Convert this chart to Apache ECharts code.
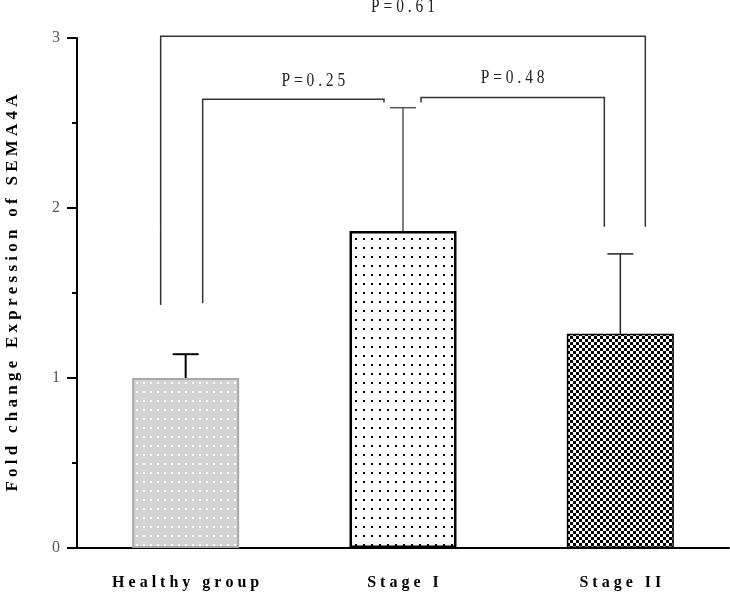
<!DOCTYPE html>
<html>
<head>
<meta charset="utf-8">
<script src="https://cdn.jsdelivr.net/npm/echarts@6/dist/echarts.min.js"></script>
<style>
  html, body { margin: 0; padding: 0; background: #fff; }
  #chart { width: 730px; height: 592px; }
</style>
</head>
<body>
<div id="chart"></div>
<script>
// data
var categories = ['Healthy group', 'Stage I', 'Stage II'];
var means = [1.0, 1.865, 1.26];
var errors = [0.14, 0.725, 0.47];
var yTicks = [0, 1, 2, 3];

// significance brackets: [from, to, top, left foot, right foot]
var brackets = [[0, 2, 3.01, 1.43, 1.89], [0, 1, 2.64, 1.44, 2.62], [1, 2, 2.65, 2.62, 1.89]];
var pLabels = ['P = 0 . 6 1', 'P = 0 . 2 5', 'P = 0 . 4 8'];

// spread letters like the original print
function spaced(s) { return s.split('').join(' '); }

// small repeating fills for the bars
function pattern(w, h, draw) {
  var c = document.createElement('canvas');
  c.width = w; c.height = h;
  draw(c.getContext('2d'));
  return { image: c, repeat: 'repeat' };
}
var healthyFill = pattern(7, 9, function (g) {
  g.fillStyle = '#d3d3d3'; g.fillRect(0, 0, 7, 9);
  g.fillStyle = '#ffffff'; g.fillRect(3, 4, 2, 2);
});
var stage1Fill = pattern(8, 9, function (g) {
  g.fillStyle = '#ffffff'; g.fillRect(0, 0, 8, 9);
  g.fillStyle = '#000000'; g.fillRect(3, 4, 2, 2);
});
var stage2Fill = pattern(6, 6, function (g) {
  g.fillStyle = '#ffffff'; g.fillRect(0, 0, 6, 6);
  g.fillStyle = '#000000'; g.fillRect(0, 0, 3, 3); g.fillRect(3, 3, 3, 3);
});

var barStyles = [
  { color: healthyFill, borderColor: '#a9a9a9', borderWidth: 2 },
  { color: stage1Fill, borderColor: '#000', borderWidth: 2.5 },
  { color: stage2Fill, borderColor: '#000', borderWidth: 1.5 }
];
var errColors = ['#000', '#555', '#222'];
var errWidths = [2, 1.5, 1.5];
// pixel offsets of bracket legs from the bar centres, and label nudges
var legOffsets = [[-25, 25], [17, -19], [18, -16]];
var labelNudge = [[0, -29], [20, -18], [0, -19]];

var serif = '"Liberation Serif", "DejaVu Serif", serif';

var chart = echarts.init(document.getElementById('chart'));

var option = {
  animation: false,
  grid: { left: 77, right: 1, top: 38, bottom: 44, containLabel: false, outerBoundsMode: 'none' },
  xAxis: {
    type: 'category',
    data: categories,
    axisLine: { lineStyle: { color: '#000', width: 2 } },
    axisTick: { alignWithLabel: true, length: 11, lineStyle: { color: '#000', width: 2 } },
    axisLabel: {
      margin: 27,
      fontFamily: serif,
      fontWeight: 'bold',
      fontSize: 16,
      color: '#000',
      formatter: function (v) { return spaced(v); }
    }
  },
  yAxis: {
    type: 'value',
    min: yTicks[0],
    max: yTicks[yTicks.length - 1],
    interval: 1,
    name: spaced('Fold change Expression of SEMA4A'),
    nameLocation: 'middle',
    nameGap: 56,
    nameTextStyle: { fontFamily: serif, fontWeight: 'bold', fontSize: 17, color: '#000' },
    axisLine: { show: true, lineStyle: { color: '#000', width: 2 } },
    axisTick: { show: true, length: 10, lineStyle: { color: '#000', width: 2 } },
    minorTick: { show: true, splitNumber: 2, length: 5, lineStyle: { color: '#000', width: 2 } },
    splitLine: { show: false },
    axisLabel: { margin: 17, fontFamily: serif, fontSize: 16, color: '#555' }
  },
  series: [
    {
      type: 'bar',
      barWidth: 107,
      data: means.map(function (m, i) { return { value: m, itemStyle: barStyles[i] }; }),
      z: 2
    },
    {
      // upper error bars
      type: 'custom',
      data: means.map(function (m, i) { return [i, m, errors[i]]; }),
      encode: { x: 0, y: 1 },
      z: 3,
      renderItem: function (params, api) {
        var i = api.value(0);
        var base = api.coord([i, api.value(1)]);
        var top = api.coord([i, api.value(1) + api.value(2)]);
        var st = { stroke: errColors[i], lineWidth: errWidths[i] };
        return {
          type: 'group',
          children: [
            { type: 'line', shape: { x1: base[0], y1: base[1], x2: top[0], y2: top[1] }, style: st },
            { type: 'line', shape: { x1: top[0] - 13, y1: top[1], x2: top[0] + 13, y2: top[1] }, style: st }
          ]
        };
      }
    },
    {
      // significance brackets
      type: 'custom',
      clip: false,
      data: brackets,
      encode: { x: 0, y: 2 },
      z: 4,
      renderItem: function (params, api) {
        var k = params.dataIndex;
        var a = api.value(0), b = api.value(1);
        var top = api.value(2);
        var pl = api.coord([a, top]), pr = api.coord([b, top]);
        var fl = api.coord([a, api.value(3)]), fr = api.coord([b, api.value(4)]);
        var xl = pl[0] + legOffsets[k][0], xr = pr[0] + legOffsets[k][1];
        return {
          type: 'group',
          children: [
            {
              type: 'polyline',
              shape: { points: [[xl, fl[1]], [xl, pl[1]], [xr, pr[1]], [xr, fr[1]]] },
              style: { stroke: '#333', lineWidth: 1.5, fill: null }
            },
            {
              type: 'text',
              x: (xl + xr) / 2 + labelNudge[k][0],
              y: pl[1] + labelNudge[k][1],
              scaleX: 0.86,
              style: {
                text: pLabels[k],
                font: '18px ' + serif,
                fill: '#222',
                align: 'center',
                verticalAlign: 'middle'
              }
            }
          ]
        };
      }
    }
  ]
};

chart.setOption(option);
</script>
</body>
</html>
